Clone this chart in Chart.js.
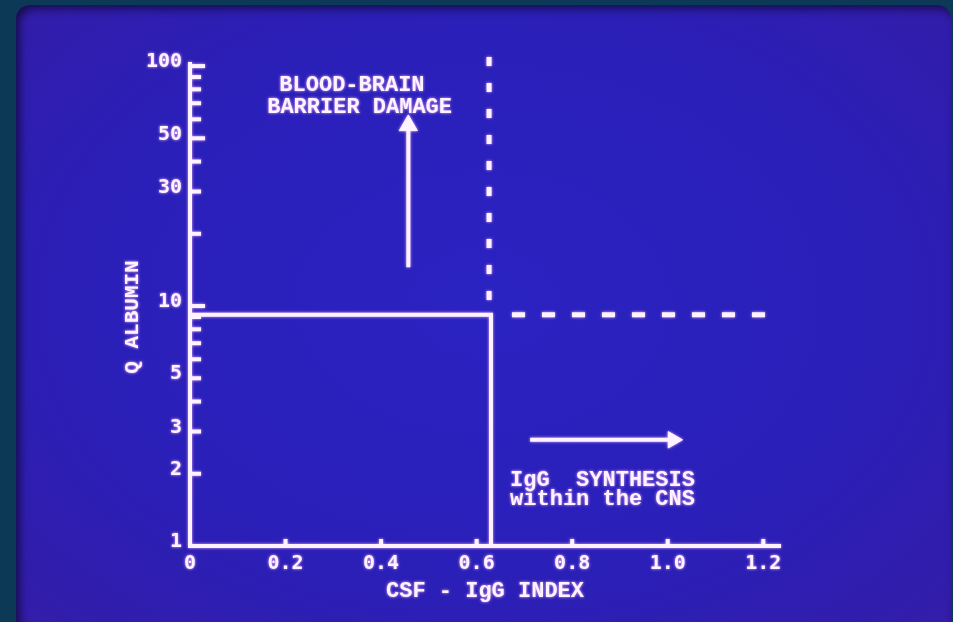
<!DOCTYPE html>
<html><head><meta charset="utf-8">
<script src="https://cdn.jsdelivr.net/npm/chart.js@4.4.1/dist/chart.umd.min.js"></script>
<style>
html,body{margin:0;padding:0;width:953px;height:622px;overflow:hidden;background:#0c3956;}
#slide{position:absolute;left:16px;top:5px;width:935px;height:660px;border-radius:14px;
 background:radial-gradient(ellipse 75% 75% at 50% 45%, #2a22c2 0%, #2a1fb8 55%, #351ca6 100%);
 box-shadow: inset 4px 4px 8px rgba(0,0,0,0.55);}
#wrap{position:absolute;left:0;top:0;width:953px;height:622px;}
#c{filter:drop-shadow(0 0 1.5px rgba(255,190,255,0.9));}
</style></head><body>
<div id="slide"></div>
<div id="wrap"><canvas id="c"></canvas></div>
<script>
// ---- data ----
const xTickValues = [0, 0.2, 0.4, 0.6, 0.8, 1.0, 1.2];
const yTickValues = [1, 2, 3, 5, 10, 30, 50, 100];
const yMarkValues = [2, 3, 4, 5, 6, 7, 8, 9, 10, 20, 30, 40, 50, 60, 70, 80, 90, 100];
const yLongMarks = [10, 50, 100];
const boundaryX = [0, 0.63, 0.63];
const boundaryY = [9.2, 9.2, 1];
const dottedX = [0.626, 0.626];
const dottedY = [109, 10.3];
const dashedX = [0.674, 1.208];
const dashedY = [9.2, 9.2];
const upArrowX = [0.457, 0.457];
const upArrowY = [14.5, 56.6];
const rightArrowX = [0.712, 1.011];
const rightArrowY = [2.77, 2.77];
const xTitle = 'CSF - IgG INDEX';
const yTitle = 'Q ALBUMIN';

const INK = '#fdf2ff';
const FONT = "'Liberation Mono', 'DejaVu Sans Mono', monospace";
const pts = (xs, ys) => xs.map((v, i) => ({x: v, y: ys[i]}));

const notes = [
  {text: 'BLOOD-BRAIN', x: 0.339, y: 83.3, align: 'center'},
  {text: 'BARRIER DAMAGE', x: 0.355, y: 67.5, align: 'center'},
  {text: 'IgG  SYNTHESIS', x: 0.670, y: 1.88, align: 'left'},
  {text: 'within the CNS', x: 0.670, y: 1.57, align: 'left'}
];

const marksPlugin = {
  id: 'marks',
  afterDatasetsDraw(chart) {
    const {ctx, scales: {x, y}, chartArea} = chart;
    ctx.save();
    ctx.strokeStyle = INK;
    ctx.lineWidth = 4;
    ctx.lineCap = 'butt';
    const x0 = chartArea.left, y0 = chartArea.bottom;
    yMarkValues.forEach(v => {
      const py = y.getPixelForValue(v);
      const len = yLongMarks.includes(v) ? 15 : 11;
      ctx.beginPath(); ctx.moveTo(x0, py); ctx.lineTo(x0 + len, py); ctx.stroke();
    });
    xTickValues.slice(1).forEach(v => {
      const px = x.getPixelForValue(v);
      ctx.beginPath(); ctx.moveTo(px, y0); ctx.lineTo(px, y0 - 7); ctx.stroke();
    });
    ctx.fillStyle = INK;
    ctx.font = "bold 22px " + FONT;
    ctx.textBaseline = 'middle';
    notes.forEach(n => {
      ctx.textAlign = n.align;
      ctx.fillText(n.text, x.getPixelForValue(n.x), y.getPixelForValue(n.y));
    });
    // y axis title
    ctx.save();
    ctx.translate(133, 317);
    ctx.rotate(-Math.PI / 2);
    ctx.textAlign = 'center';
    ctx.font = "bold 21px " + FONT;
    ctx.fillText(yTitle, 0, 0);
    ctx.restore();
    ctx.restore();
  }
};

const lineDs = (data, extra) => Object.assign({
  data, showLine: true, borderColor: INK, borderWidth: 4,
  pointRadius: 0, fill: false, tension: 0
}, extra);

new Chart(document.getElementById('c'), {
  type: 'scatter',
  data: {
    datasets: [
      lineDs(pts(boundaryX, boundaryY), {borderJoinStyle: 'miter'}),
      lineDs(pts(dottedX, dottedY), {borderWidth: 5, borderDash: [9, 17], clip: false}),
      lineDs(pts(dashedX, dashedY), {borderWidth: 5, borderDash: [13, 17]}),
      lineDs(pts(upArrowX, upArrowY), {pointRadius: [0, 10.5], pointStyle: 'triangle',
        pointBackgroundColor: INK, pointBorderColor: INK, pointBorderWidth: 1, pointRotation: 0, clip: false}),
      lineDs(pts(rightArrowX, rightArrowY), {pointRadius: [0, 9.5], pointStyle: 'triangle',
        pointBackgroundColor: INK, pointBorderColor: INK, pointBorderWidth: 1, pointRotation: 90, clip: false})
    ]
  },
  options: {
    responsive: true, maintainAspectRatio: false, animation: false, events: [],
    layout: {padding: {left: 0, top: 64, right: 173, bottom: 0}},
    plugins: {legend: {display: false}, tooltip: {enabled: false}},
    scales: {
      x: {
        type: 'linear', min: 0, max: 1.235,
        grid: {display: false, drawTicks: false},
        border: {display: true, color: INK, width: 4},
        afterBuildTicks: s => { s.ticks = xTickValues.map(v => ({value: v})); },
        afterFit: s => { s.height = 76; },
        ticks: {
          color: INK, padding: 6,
          font: {family: "'DejaVu Sans Mono', monospace", weight: 'bold', size: 20},
          callback: v => v === 0 ? '0' : Number(v).toFixed(1)
        },
        title: {display: true, text: xTitle, color: INK,
          font: {family: FONT, weight: 'bold', size: 22}, padding: {top: 0, bottom: 17}}
      },
      y: {
        type: 'logarithmic', min: 1, max: 102,
        grid: {display: false, drawTicks: false},
        border: {display: true, color: INK, width: 4},
        afterBuildTicks: s => { s.ticks = yTickValues.map(v => ({value: v})); },
        afterFit: s => { s.width = 190; },
        ticks: {
          color: INK, padding: 8, labelOffset: -4,
          font: {family: "'DejaVu Sans Mono', monospace", weight: 'bold', size: 20},
          callback: v => String(v)
        }
      }
    }
  },
  plugins: [marksPlugin]
});
</script>
</body></html>
